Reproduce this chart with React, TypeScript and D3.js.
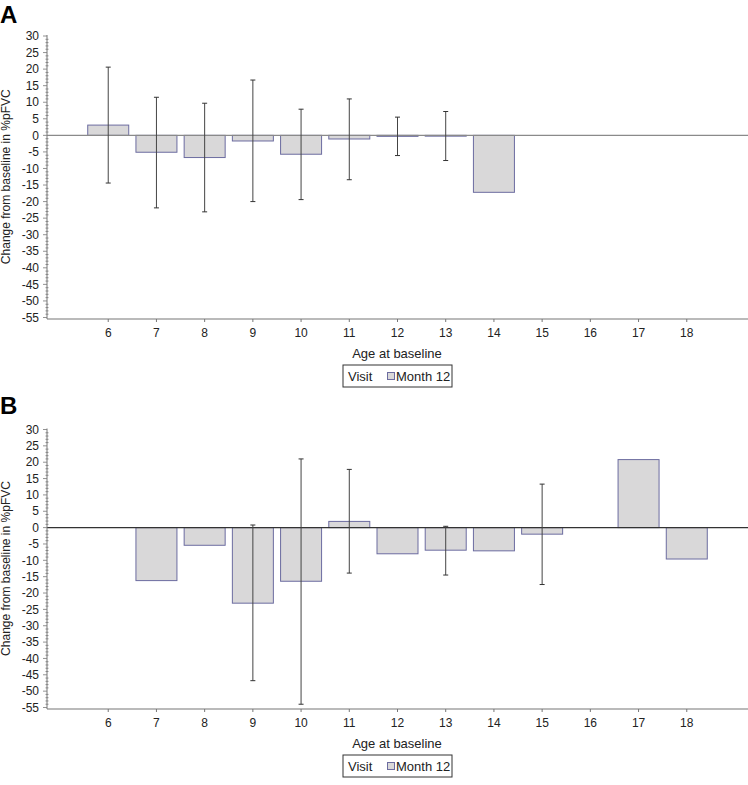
import React, { useEffect, useRef } from 'react';
import * as d3 from 'd3';

// ages on the x axis
const ages = [6, 7, 8, 9, 10, 11, 12, 13, 14, 15, 16, 17, 18];
const yTicks = [30, 25, 20, 15, 10, 5, 0, -5, -10, -15, -20, -25, -30, -35, -40, -45, -50, -55];

// Panel A: mean change at month 12, with lower / upper error bar ends
const meanA = [3.1, -5.1, -6.7, -1.7, -5.7, -1.1, -0.3, -0.2, -17.2, null, null, null, null];
const lowA = [-14.4, -21.9, -23.1, -20.0, -19.4, -13.4, -6.1, -7.6, null, null, null, null, null];
const highA = [20.6, 11.5, 9.7, 16.7, 7.9, 11.0, 5.5, 7.2, null, null, null, null, null];

// Panel B
const meanB = [null, -16.2, -5.4, -23.1, -16.4, 1.9, -8.0, -6.9, -7.1, -2.0, null, 20.8, -9.6];
const lowB = [null, null, null, -46.8, -54.0, -13.9, null, -14.5, null, -17.4, null, null, null];
const highB = [null, null, null, 0.8, 21.0, 17.8, null, 0.4, null, 13.3, null, null, null];

const FONT = 'Liberation Sans, Arial, sans-serif';

type Panel = {
  letter: string;
  letterY: number;
  top: number;
  bottom: number;
  zeroColor: string;
  mean: (number | null)[];
  low: (number | null)[];
  high: (number | null)[];
};

const panels: Panel[] = [
  { letter: 'A', letterY: 23, top: 36, bottom: 317.5, zeroColor: '#8a8a8a', mean: meanA, low: lowA, high: highA },
  { letter: 'B', letterY: 414, top: 429.5, bottom: 707.5, zeroColor: '#333', mean: meanB, low: lowB, high: highB },
];

export default function App() {
  const svgRef = useRef<SVGSVGElement>(null);

  useEffect(() => {
    if (!svgRef.current) return;
    const svg = d3.select(svgRef.current);
    svg.selectAll('*').remove();

    const left = 47;
    const right = 748;
    const x = d3.scaleLinear().domain([4.73, 19.27]).range([left, right]);
    const barW = 41;

    panels.forEach((p) => {
      const g = svg.append('g');
      const y = d3.scaleLinear().domain([-55, 30]).range([p.bottom, p.top]);
      const axisY = p.bottom + 1.5;

      g.append('text')
        .attr('x', 0)
        .attr('y', p.letterY)
        .style('font-family', FONT)
        .style('font-weight', 'bold')
        .style('font-size', '24px')
        .text(p.letter);

      // bars
      ages.forEach((a, i) => {
        const v = p.mean[i];
        if (v == null) return;
        g.append('rect')
          .attr('x', x(a) - barW / 2)
          .attr('y', Math.min(y(v), y(0)))
          .attr('width', barW)
          .attr('height', Math.max(Math.abs(y(v) - y(0)), 0.8))
          .attr('fill', '#d9d8d9')
          .attr('stroke', '#6c6ca0')
          .attr('stroke-width', 1);
      });

      // zero line
      g.append('line')
        .attr('x1', left)
        .attr('x2', right)
        .attr('y1', y(0))
        .attr('y2', y(0))
        .attr('stroke', p.zeroColor)
        .attr('stroke-width', 1.2);

      // error bars
      ages.forEach((a, i) => {
        const lo = p.low[i];
        const hi = p.high[i];
        if (lo == null || hi == null) return;
        const cx = x(a);
        g.append('line')
          .attr('x1', cx).attr('x2', cx)
          .attr('y1', y(hi)).attr('y2', y(lo))
          .attr('stroke', '#444').attr('stroke-width', 1);
        [lo, hi].forEach((v) => {
          g.append('line')
            .attr('x1', cx - 2.5).attr('x2', cx + 2.5)
            .attr('y1', y(v)).attr('y2', y(v))
            .attr('stroke', '#333').attr('stroke-width', 1);
        });
      });

      // y axis
      g.append('line')
        .attr('x1', left).attr('x2', left)
        .attr('y1', p.top - 1).attr('y2', axisY)
        .attr('stroke', '#777').attr('stroke-width', 1);
      d3.range(-55, 31, 1).forEach((t) => {
        const major = t % 5 === 0;
        g.append('line')
          .attr('x1', major ? left - 4 : left - 1.5)
          .attr('x2', major ? left : left + 1.5)
          .attr('y1', y(t)).attr('y2', y(t))
          .attr('stroke', '#777').attr('stroke-width', 0.8);
      });
      yTicks.forEach((t) => {
        g.append('text')
          .attr('x', left - 8)
          .attr('y', y(t) + 4.2)
          .attr('text-anchor', 'end')
          .style('font-family', FONT)
          .style('font-size', '12px')
          .style('fill', '#222')
          .text(t);
      });

      // x axis
      g.append('line')
        .attr('x1', left).attr('x2', right)
        .attr('y1', axisY).attr('y2', axisY)
        .attr('stroke', '#777').attr('stroke-width', 1.2);
      ages.forEach((a) => {
        g.append('line')
          .attr('x1', x(a)).attr('x2', x(a))
          .attr('y1', axisY).attr('y2', axisY + 3)
          .attr('stroke', '#777');
        g.append('text')
          .attr('x', x(a))
          .attr('y', axisY + 18)
          .attr('text-anchor', 'middle')
          .style('font-family', FONT)
          .style('font-size', '12px')
          .style('fill', '#222')
          .text(a);
      });

      const midY = (p.top + p.bottom) / 2;
      g.append('text')
        .attr('transform', `translate(10,${midY}) rotate(-90)`)
        .attr('text-anchor', 'middle')
        .style('font-family', FONT)
        .style('font-size', '12px')
        .style('fill', '#222')
        .text('Change from baseline in %pFVC');

      g.append('text')
        .attr('x', 397)
        .attr('y', axisY + 39)
        .attr('text-anchor', 'middle')
        .style('font-family', FONT)
        .style('font-size', '13px')
        .style('fill', '#222')
        .text('Age at baseline');

      // legend
      const ly = axisY + 46;
      const lg = g.append('g').attr('transform', `translate(343,${ly})`);
      lg.append('rect')
        .attr('x', 0).attr('y', 0)
        .attr('width', 109).attr('height', 22)
        .attr('fill', 'white').attr('stroke', '#333');
      lg.append('text')
        .attr('x', 5).attr('y', 16)
        .style('font-family', FONT).style('font-size', '13px').style('fill', '#222')
        .text('Visit');
      lg.append('rect')
        .attr('x', 44.5).attr('y', 7.5)
        .attr('width', 7).attr('height', 7)
        .attr('fill', '#d9d8d9').attr('stroke', '#6c6ca0');
      lg.append('text')
        .attr('x', 53).attr('y', 16)
        .style('font-family', FONT).style('font-size', '13px').style('fill', '#222')
        .text('Month 12');
    });
  }, []);

  return (
    <svg
      ref={svgRef}
      width={748}
      height={785}
      style={{ position: 'absolute', left: 0, top: 0, background: 'white' }}
    ></svg>
  );
}
